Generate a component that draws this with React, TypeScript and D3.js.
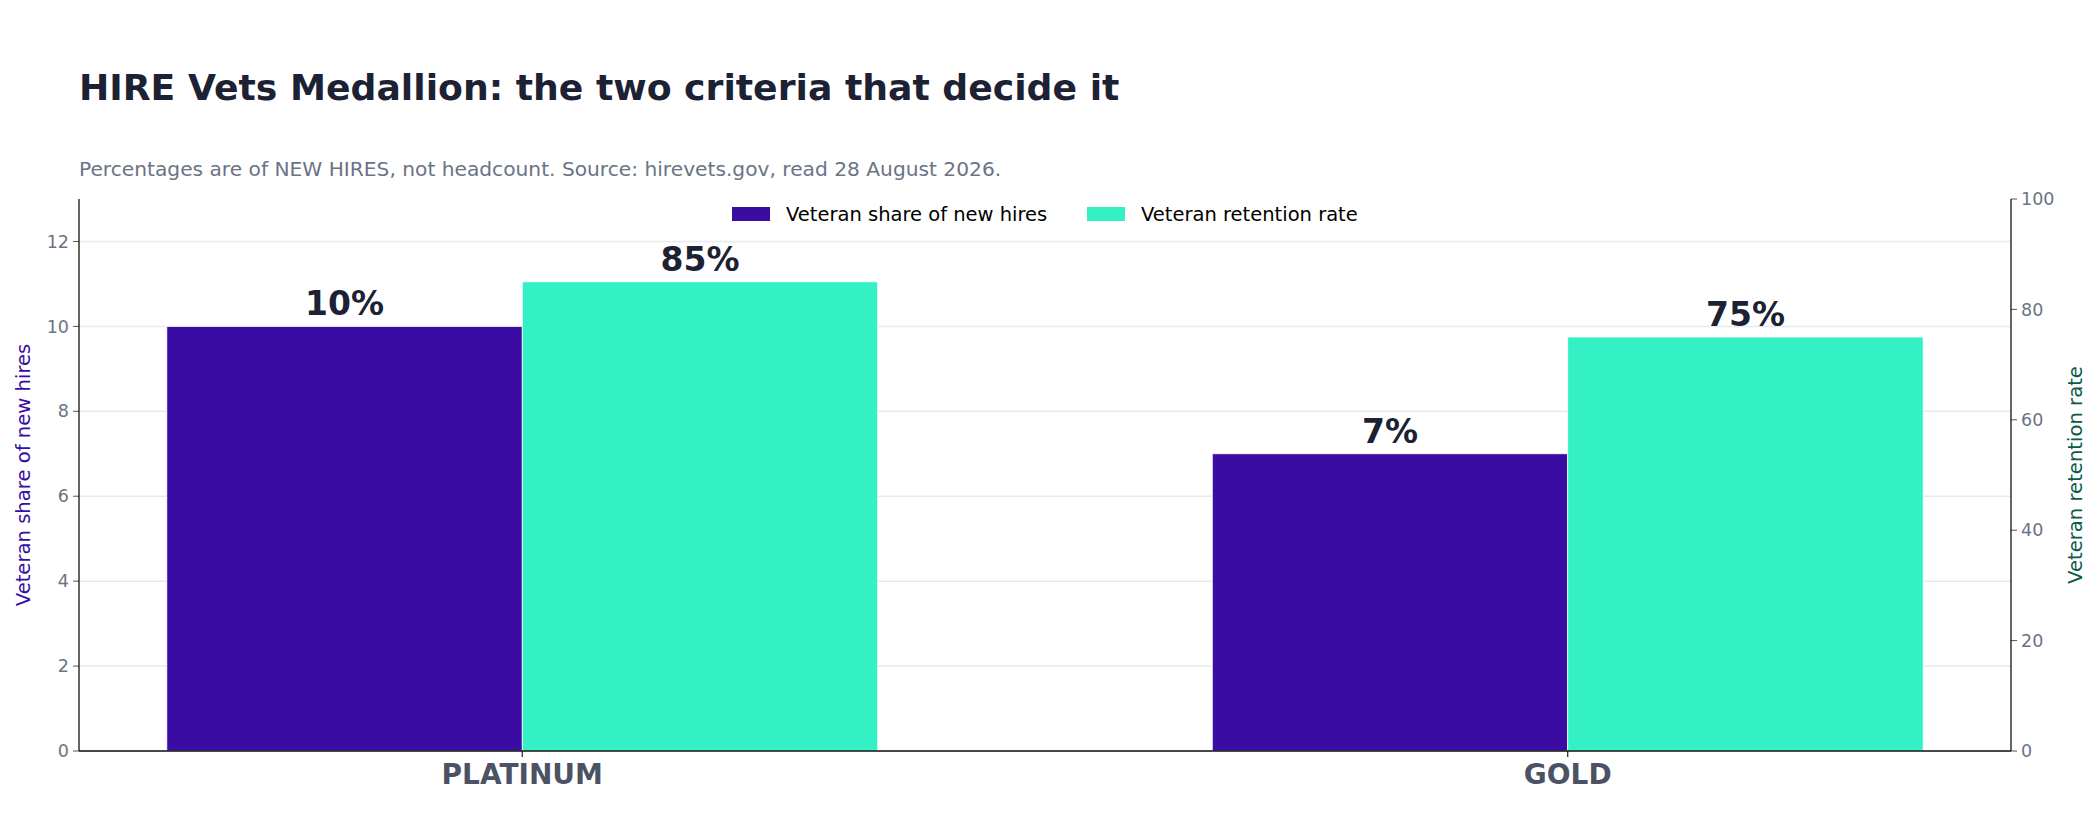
import * as d3 from "d3";

const categories = ["PLATINUM", "GOLD"];
const shareValues = [10, 7];
const retentionValues = [85, 75];
const shareTicks = [0, 2, 4, 6, 8, 10, 12];
const retentionTicks = [0, 20, 40, 60, 80, 100];
const seriesNames = ["Veteran share of new hires", "Veteran retention rate"];
const seriesColors = ["#3a0ca3", "#33f0c5"];

const W = 2100;
const H = 820;
const left = 79;
const right = 2011;
const top = 199;
const bottom = 751;
const barW = 0.34;
const font = "'DejaVu Sans', sans-serif";

export default function App() {
  // matplotlib-like 5% margin on the x data range
  const lo = -barW;
  const hi = categories.length - 1 + barW;
  const pad = (hi - lo) * 0.05;
  const x = d3.scaleLinear().domain([lo - pad, hi + pad]).range([left, right]);
  const yL = d3.scaleLinear().domain([0, 13]).range([bottom, top]);
  const yR = d3.scaleLinear().domain([0, 100]).range([bottom, top]);

  return (
    <svg
      width={W}
      height={H}
      style={{ position: "absolute", left: 0, top: 0, background: "#fff" }}
      fontFamily={font}
    >
      <text x={left} y={100} fontSize={36.2} fontWeight="bold" fill="#1c2234">
        HIRE Vets Medallion: the two criteria that decide it
      </text>
      <text x={left} y={176} fontSize={20.2} fill="#6b7385">
        Percentages are of NEW HIRES, not headcount. Source: hirevets.gov, read 28 August 2026.
      </text>

      {/* grid */}
      {shareTicks.map((t) => (
        <line key={t} x1={left} x2={right} y1={yL(t)} y2={yL(t)} stroke="#e6e9ef" strokeWidth={1.5} />
      ))}

      {/* bars */}
      {categories.map((c, i) => (
        <g key={c}>
          <rect
            x={x(i - barW)}
            y={yL(shareValues[i])}
            width={x(i) - x(i - barW)}
            height={bottom - yL(shareValues[i])}
            fill={seriesColors[0]}
            stroke="#fff"
            strokeWidth={0.8}
          />
          <rect
            x={x(i)}
            y={yR(retentionValues[i])}
            width={x(i + barW) - x(i)}
            height={bottom - yR(retentionValues[i])}
            fill={seriesColors[1]}
            stroke="#fff"
            strokeWidth={0.8}
          />
          <text
            x={x(i - barW / 2)}
            y={yL(shareValues[i]) - 11}
            textAnchor="middle"
            fontSize={33}
            fontWeight="bold"
            fill="#1c2234"
          >
            {shareValues[i]}%
          </text>
          <text
            x={x(i + barW / 2)}
            y={yR(retentionValues[i]) - 11}
            textAnchor="middle"
            fontSize={33}
            fontWeight="bold"
            fill="#1c2234"
          >
            {retentionValues[i]}%
          </text>
          <line x1={x(i)} x2={x(i)} y1={bottom} y2={bottom + 6} stroke="#222" strokeWidth={1.2} />
          <text
            x={x(i)}
            y={784}
            textAnchor="middle"
            fontSize={28}
            fontWeight="bold"
            fill="#4b5263"
          >
            {c}
          </text>
        </g>
      ))}

      {/* left axis */}
      {shareTicks.map((t) => (
        <g key={t}>
          <line x1={left - 6} x2={left} y1={yL(t)} y2={yL(t)} stroke="#555" strokeWidth={1} />
          <text x={left - 10} y={yL(t)} dy="0.35em" textAnchor="end" fontSize={17.5} fill="#6b7385">
            {t}
          </text>
        </g>
      ))}
      {/* right axis */}
      {retentionTicks.map((t) => (
        <g key={t}>
          <line x1={right} x2={right + 6} y1={yR(t)} y2={yR(t)} stroke="#555" strokeWidth={1} />
          <text x={right + 10} y={yR(t)} dy="0.35em" textAnchor="start" fontSize={17.5} fill="#6b7385">
            {t}
          </text>
        </g>
      ))}

      <line x1={left} x2={left} y1={top} y2={bottom} stroke="#111" strokeWidth={1.3} />
      <line x1={right} x2={right} y1={top} y2={bottom} stroke="#111" strokeWidth={1.3} />
      <line x1={left} x2={right} y1={bottom} y2={bottom} stroke="#111" strokeWidth={1.3} />

      <text
        transform={`translate(${23},${(top + bottom) / 2}) rotate(-90)`}
        dy="0.35em"
        textAnchor="middle"
        fontSize={19.6}
        fill="#3a0ca3"
      >
        {seriesNames[0]}
      </text>
      <text
        transform={`translate(${2075},${(top + bottom) / 2}) rotate(-90)`}
        dy="0.35em"
        textAnchor="middle"
        fontSize={19.6}
        fill="#0b5c45"
      >
        {seriesNames[1]}
      </text>

      {/* legend */}
      <g>
        <rect x={732} y={207} width={38} height={14} fill={seriesColors[0]} />
        <text x={786} y={214} dy="0.35em" fontSize={19.5} fill="#000">
          {seriesNames[0]}
        </text>
        <rect x={1087} y={207} width={38} height={14} fill={seriesColors[1]} />
        <text x={1141} y={214} dy="0.35em" fontSize={19.5} fill="#000">
          {seriesNames[1]}
        </text>
      </g>
    </svg>
  );
}
